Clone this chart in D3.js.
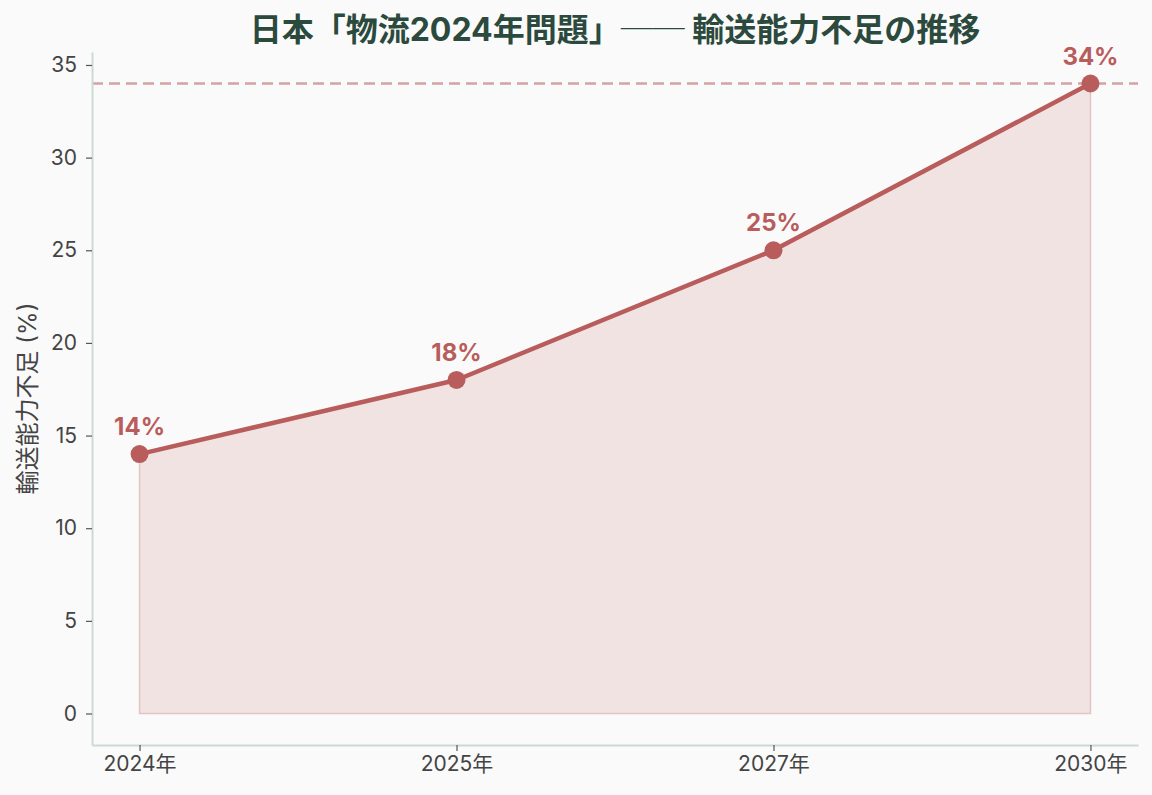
<!DOCTYPE html>
<html>
<head>
<meta charset="utf-8">
<script src="https://cdn.jsdelivr.net/npm/d3@7"></script>
<style>
  body { margin: 0; background: #fafafa; }
  svg { display: block; font-family: Inter, "Noto Sans CJK JP", sans-serif; }
</style>
</head>
<body>
<svg class="chart"></svg>
<script>
var width = 1152,
    height = 795;

// data
var years = ["2024年", "2025年", "2027年", "2030年"];
var shortage = [14, 18, 25, 34];
var yTicks = [0, 5, 10, 15, 20, 25, 30, 35];

var margin = {top: 52, right: 14, bottom: 50, left: 92};

var svg = d3.select(".chart")
    .attr("width", width)
    .attr("height", height);

svg.append("rect").attr("width", width).attr("height", height).attr("fill", "#fafafa");

// scales (matplotlib style 5% margins)
var x = d3.scaleLinear()
    .domain([-0.15, 3.15])
    .range([margin.left, width - margin.right]);

var y = d3.scaleLinear()
    .domain([-1.7, 35.7])
    .range([height - margin.bottom, margin.top]);

var data = years.map(function(d, i) { return {year: d, i: i, v: shortage[i]}; });

// area fill
var area = d3.area()
    .x(function(d) { return x(d.i); })
    .y0(y(0))
    .y1(function(d) { return y(d.v); });

svg.append("path")
    .attr("d", area(data))
    .attr("fill", "#e9cccc")
    .attr("fill-opacity", 0.5)
    .attr("stroke", "#e2c4c4")
    .attr("stroke-width", 1.5);

// target line at max
svg.append("line")
    .attr("x1", margin.left)
    .attr("x2", width - margin.right)
    .attr("y1", y(d3.max(shortage)))
    .attr("y2", y(d3.max(shortage)))
    .attr("stroke", "#d4a3a3")
    .attr("stroke-width", 2.5)
    .attr("stroke-dasharray", "11,6");

// axes
var xAxis = d3.axisBottom(x)
    .tickValues(d3.range(years.length))
    .tickFormat(function(i) { return years[i]; })
    .tickSizeInner(6).tickSizeOuter(0).tickPadding(5);

var yAxis = d3.axisLeft(y)
    .tickValues(yTicks)
    .tickSizeInner(6).tickSizeOuter(0).tickPadding(9);

var gx = svg.append("g")
    .attr("transform", "translate(0," + (height - margin.bottom) + ")")
    .call(xAxis);

var gy = svg.append("g")
    .attr("transform", "translate(" + margin.left + ",0)")
    .call(yAxis);

[gx, gy].forEach(function(g) {
  g.select(".domain").attr("stroke", "#c9dbd2").attr("stroke-width", 2);
  g.selectAll(".tick line").attr("stroke", "#555").attr("stroke-width", 1.2);
  g.selectAll(".tick text")
    .attr("fill", "#444")
    .style("font-size", "21px")
    .style("font-family", "Inter, 'Noto Sans CJK JP', sans-serif");
});

// line
var line = d3.line()
    .x(function(d) { return x(d.i); })
    .y(function(d) { return y(d.v); });

svg.append("path")
    .attr("d", line(data))
    .attr("fill", "none")
    .attr("stroke", "#b95c5c")
    .attr("stroke-width", 4.5)
    .attr("stroke-linejoin", "round");

svg.selectAll("circle.pt")
    .data(data)
    .enter().append("circle")
    .attr("class", "pt")
    .attr("cx", function(d) { return x(d.i); })
    .attr("cy", function(d) { return y(d.v); })
    .attr("r", 9)
    .attr("fill", "#b95c5c");

// value labels
svg.selectAll("text.val")
    .data(data)
    .enter().append("text")
    .attr("class", "val")
    .attr("x", function(d) { return x(d.i); })
    .attr("y", function(d) { return y(d.v) - 19; })
    .attr("text-anchor", "middle")
    .attr("fill", "#b95c5c")
    .style("font-size", "24px")
    .style("font-weight", "bold")
    .text(function(d) { return d.v + "%"; });

// y label
svg.append("text")
    .attr("transform", "translate(36," + ((margin.top + height - margin.bottom) / 2) + ") rotate(-90)")
    .attr("text-anchor", "middle")
    .attr("fill", "#444")
    .style("font-size", "24px")
    .text("輸送能力不足 (%)");

// title
svg.append("text")
    .attr("x", 615)
    .attr("y", 41)
    .attr("text-anchor", "middle")
    .attr("fill", "#2b4a3d")
    .style("font-size", "32px")
    .style("font-weight", "bold")
    .text("日本「物流2024年問題」── 輸送能力不足の推移");
</script>
</body>
</html>
